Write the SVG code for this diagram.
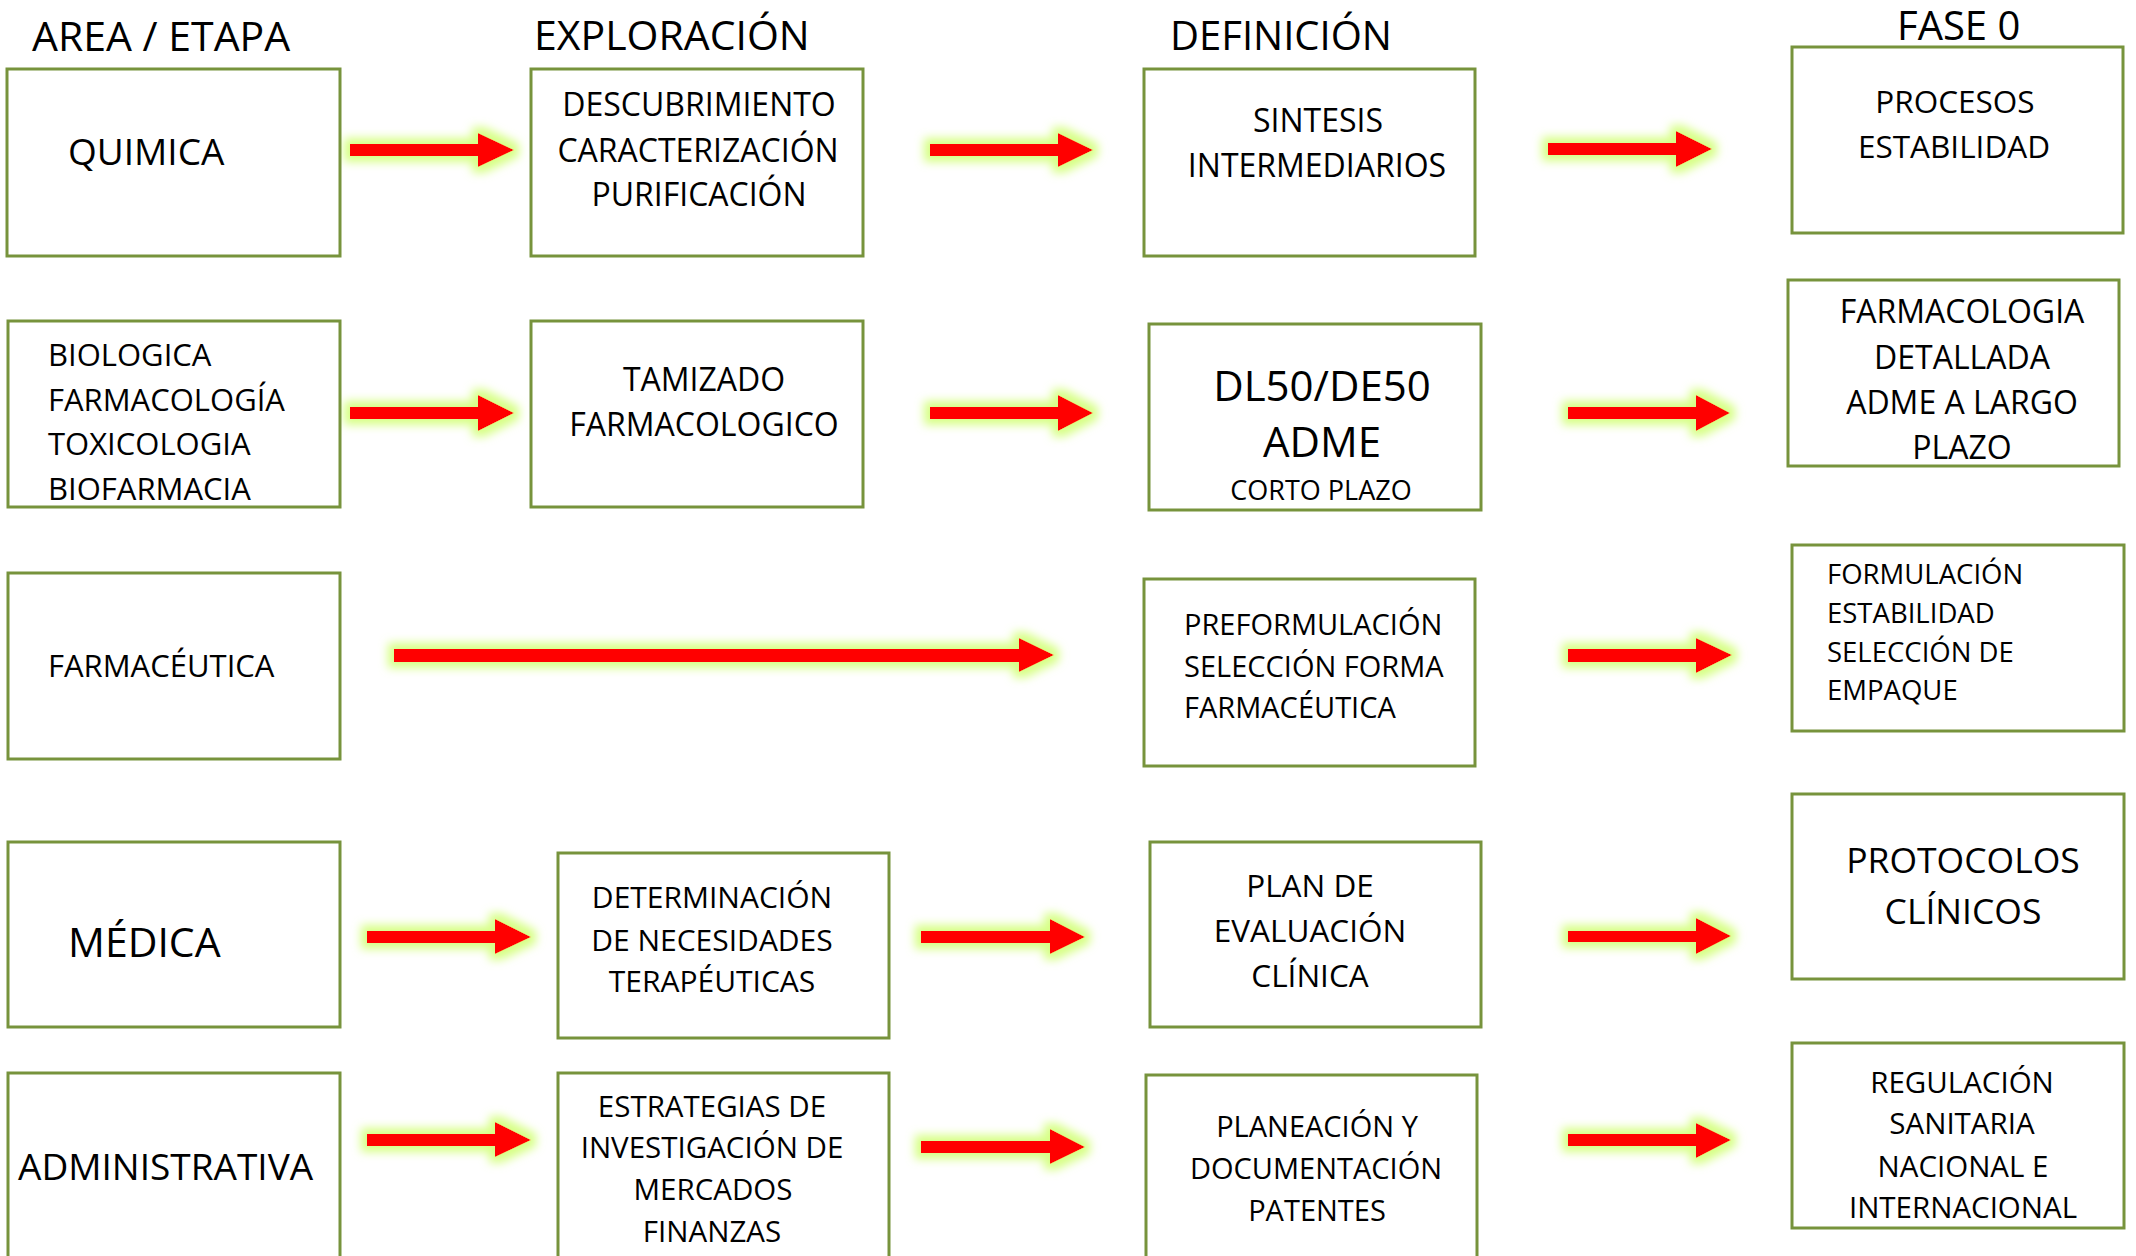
<svg xmlns="http://www.w3.org/2000/svg" width="2136" height="1256" viewBox="0 0 2136 1256">
<style>
text{font-family:"Open Sans","Noto Sans","Liberation Sans",sans-serif;fill:#000}
.box{fill:#fff;stroke:#77933C;stroke-width:3}
.c{text-anchor:middle}
.h{font-size:41px}
.arrow{fill:#FF0000;filter:url(#glow)}
</style>
<defs>
<filter id="glow" x="-30%" y="-150%" width="160%" height="400%">
<feMorphology in="SourceAlpha" operator="dilate" radius="6" result="d"/>
<feGaussianBlur in="d" stdDeviation="5" result="b"/>
<feFlood flood-color="#D2FF78" flood-opacity="0.9"/>
<feComposite in2="b" operator="in" result="g"/>
<feMerge><feMergeNode in="g"/><feMergeNode in="SourceGraphic"/></feMerge>
</filter>
</defs>
<rect width="2136" height="1256" fill="#fff"/>

<g id="headers">
<text class="h" x="32" y="51">AREA / ETAPA</text>
<text class="h" x="534" y="50">EXPLORACIÓN</text>
<text class="h" x="1170" y="50" style="font-size:40px">DEFINICIÓN</text>
<text class="h" x="1897" y="40" style="font-size:40px">FASE 0</text>
</g>

<g id="connectors">
<path class="arrow" d="M350 144H478V133L514 150L478 167V156H350Z"/>
<path class="arrow" d="M930 144H1058V133L1093 150L1058 167V156H930Z"/>
<path class="arrow" d="M1548 143H1676V131L1712 149L1676 167V155H1548Z"/>
<path class="arrow" d="M350 407H478V395L514 413L478 431V419H350Z"/>
<path class="arrow" d="M930 407H1058V395L1093 413L1058 431V419H930Z"/>
<path class="arrow" d="M1568 407H1696V395L1730 413L1696 431V419H1568Z"/>
<path class="arrow" d="M394 649H1019V638L1054 655L1019 672V662H394Z"/>
<path class="arrow" d="M1568 649H1696V638L1732 655L1696 673V662H1568Z"/>
<path class="arrow" d="M367 931H495V919L531 937L495 954V943H367Z"/>
<path class="arrow" d="M921 931H1050V919L1085 937L1050 954V943H921Z"/>
<path class="arrow" d="M1568 931H1696V918L1731 936L1696 954V942H1568Z"/>
<path class="arrow" d="M367 1134H495V1122L531 1140L495 1157V1146H367Z"/>
<path class="arrow" d="M921 1141H1050V1129L1085 1147L1050 1164V1153H921Z"/>
<path class="arrow" d="M1568 1134H1696V1123L1731 1140L1696 1158V1146H1568Z"/>
</g>

<g id="quimica">
<rect class="box" x="7" y="69" width="333" height="187"/>
<text x="68" y="165" style="font-size:37px">QUIMICA</text>
</g>
<g id="descubrimiento">
<rect class="box" x="531" y="69" width="332" height="187"/>
<text class="c" x="699" y="116" style="font-size:32px">DESCUBRIMIENTO</text>
<text class="c" x="698" y="162" style="font-size:32px">CARACTERIZACIÓN</text>
<text class="c" x="699" y="206" style="font-size:32px">PURIFICACIÓN</text>
</g>
<g id="sintesis">
<rect class="box" x="1144" y="69" width="331" height="187"/>
<text class="c" x="1318" y="132" style="font-size:32px">SINTESIS</text>
<text class="c" x="1317" y="177" style="font-size:32px">INTERMEDIARIOS</text>
</g>
<g id="procesos">
<rect class="box" x="1792" y="47" width="331" height="186"/>
<text class="c" x="1955" y="113" style="font-size:31.5px">PROCESOS</text>
<text class="c" x="1954" y="158" style="font-size:31.5px">ESTABILIDAD</text>
</g>

<g id="biologica">
<rect class="box" x="8" y="321" width="332" height="186"/>
<text x="48" y="366" style="font-size:31px">BIOLOGICA</text>
<text x="48" y="411" style="font-size:31px">FARMACOLOGÍA</text>
<text x="48" y="455" style="font-size:31px">TOXICOLOGIA</text>
<text x="48" y="500" style="font-size:31px">BIOFARMACIA</text>
</g>
<g id="tamizado">
<rect class="box" x="531" y="321" width="332" height="186"/>
<text class="c" x="704" y="391" style="font-size:32px">TAMIZADO</text>
<text class="c" x="704" y="436" style="font-size:32px">FARMACOLOGICO</text>
</g>
<g id="dl50">
<rect class="box" x="1149" y="324" width="332" height="186"/>
<text class="c" x="1322" y="401" style="font-size:42px">DL50/DE50</text>
<text class="c" x="1322" y="457" style="font-size:42px">ADME</text>
<text class="c" x="1321" y="500" style="font-size:27px">CORTO PLAZO</text>
</g>
<g id="farmacologia">
<rect class="box" x="1788" y="280" width="331" height="186"/>
<text class="c" x="1962" y="323" style="font-size:32px">FARMACOLOGIA</text>
<text class="c" x="1962" y="369" style="font-size:32px">DETALLADA</text>
<text class="c" x="1962" y="414" style="font-size:32px">ADME A LARGO</text>
<text class="c" x="1962" y="459" style="font-size:32px">PLAZO</text>
</g>

<g id="farmaceutica">
<rect class="box" x="8" y="573" width="332" height="186"/>
<text x="48" y="677" style="font-size:31px">FARMACÉUTICA</text>
</g>
<g id="preformulacion">
<rect class="box" x="1144" y="579" width="331" height="187"/>
<text x="1184" y="635" style="font-size:29px">PREFORMULACIÓN</text>
<text x="1184" y="677" style="font-size:29px">SELECCIÓN FORMA</text>
<text x="1184" y="718" style="font-size:29px">FARMACÉUTICA</text>
</g>
<g id="formulacion">
<rect class="box" x="1792" y="545" width="332" height="186"/>
<text x="1827" y="584" style="font-size:27.5px">FORMULACIÓN</text>
<text x="1827" y="623" style="font-size:27.5px">ESTABILIDAD</text>
<text x="1827" y="662" style="font-size:27.5px">SELECCIÓN DE</text>
<text x="1827" y="700" style="font-size:27.5px">EMPAQUE</text>
</g>

<g id="medica">
<rect class="box" x="8" y="842" width="332" height="185"/>
<text x="68" y="957" style="font-size:41px">MÉDICA</text>
</g>
<g id="determinacion">
<rect class="box" x="558" y="853" width="331" height="185"/>
<text class="c" x="712" y="908" style="font-size:30px">DETERMINACIÓN</text>
<text class="c" x="712" y="951" style="font-size:30px">DE NECESIDADES</text>
<text class="c" x="712" y="992" style="font-size:30px">TERAPÉUTICAS</text>
</g>
<g id="plan">
<rect class="box" x="1150" y="842" width="331" height="185"/>
<text class="c" x="1310" y="897" style="font-size:31.5px">PLAN DE</text>
<text class="c" x="1310" y="942" style="font-size:31.5px">EVALUACIÓN</text>
<text class="c" x="1310" y="987" style="font-size:31.5px">CLÍNICA</text>
</g>
<g id="protocolos">
<rect class="box" x="1792" y="794" width="332" height="185"/>
<text class="c" x="1963" y="873" style="font-size:35.5px">PROTOCOLOS</text>
<text class="c" x="1963" y="924" style="font-size:35.5px">CLÍNICOS</text>
</g>

<g id="administrativa">
<rect class="box" x="8" y="1073" width="332" height="200"/>
<text x="18" y="1180" style="font-size:37px">ADMINISTRATIVA</text>
</g>
<g id="estrategias">
<rect class="box" x="558" y="1073" width="331" height="200"/>
<text class="c" x="712" y="1117" style="font-size:29.5px">ESTRATEGIAS DE</text>
<text class="c" x="712" y="1158" style="font-size:29.5px">INVESTIGACIÓN DE</text>
<text class="c" x="713" y="1200" style="font-size:29.5px">MERCADOS</text>
<text class="c" x="712" y="1242" style="font-size:29.5px">FINANZAS</text>
</g>
<g id="planeacion">
<rect class="box" x="1146" y="1075" width="331" height="200"/>
<text class="c" x="1317" y="1137" style="font-size:29px">PLANEACIÓN Y</text>
<text class="c" x="1316" y="1179" style="font-size:29px">DOCUMENTACIÓN</text>
<text class="c" x="1317" y="1221" style="font-size:29px">PATENTES</text>
</g>
<g id="regulacion">
<rect class="box" x="1792" y="1043" width="332" height="185"/>
<text class="c" x="1962" y="1093" style="font-size:29.5px">REGULACIÓN</text>
<text class="c" x="1962" y="1134" style="font-size:29.5px">SANITARIA</text>
<text class="c" x="1963" y="1177" style="font-size:29.5px">NACIONAL E</text>
<text class="c" x="1963" y="1218" style="font-size:29.5px">INTERNACIONAL</text>
</g>
</svg>
